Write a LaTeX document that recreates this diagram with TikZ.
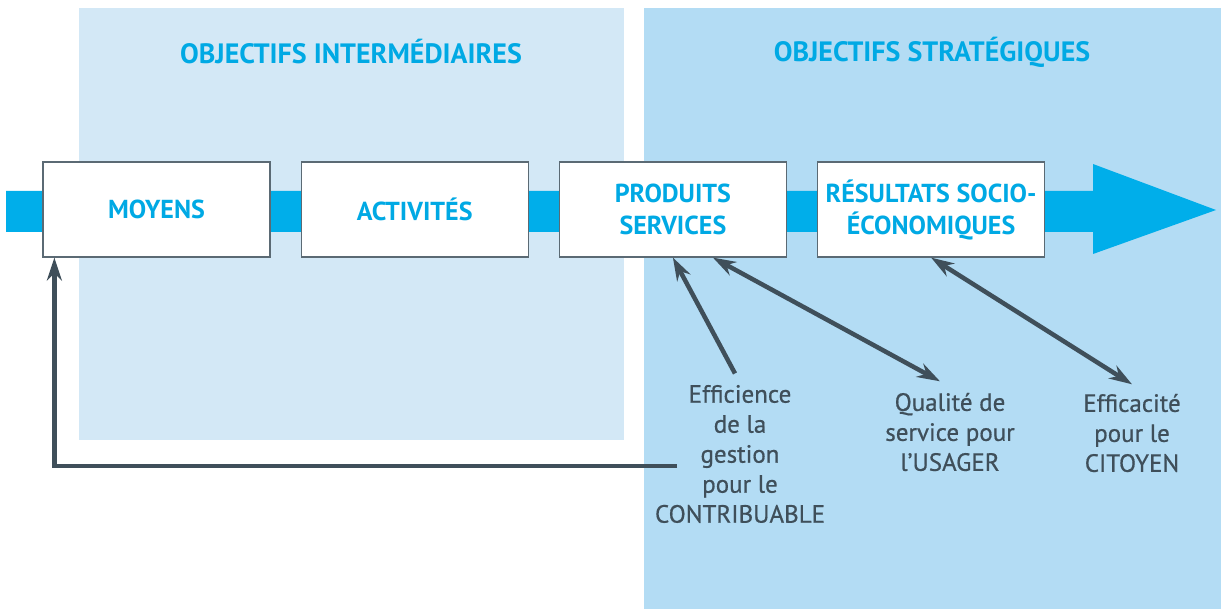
\documentclass[tikz,border=0pt]{standalone}
\usepackage{fontspec}
\setmainfont{PT Sans}
\newfontfamily\critfont{PT Sans}[FakeBold=0.6]
\usetikzlibrary{positioning, arrows.meta}

\definecolor{bandblue}{HTML}{00AEEA}
\definecolor{titleblue}{HTML}{00A9E4}
\definecolor{panellight}{HTML}{D3E8F6}
\definecolor{panelstrat}{HTML}{B3DCF4}
\definecolor{arrowgray}{HTML}{3F4F5A}
\definecolor{boxgray}{HTML}{5B6A74}

\tikzstyle{stage} = [rectangle, draw=boxgray, line width=1.2pt, fill=white, minimum width=227pt, minimum height=95pt, inner xsep=1pt, align=center, text=titleblue, font=\bfseries\fontsize{26}{32}\selectfont]
\tikzstyle{heading} = [text=titleblue, font=\bfseries\fontsize{28}{32}\selectfont]
\tikzstyle{criterion} = [align=center, text=arrowgray, font=\critfont\fontsize{25}{30}\selectfont]
\tikzstyle{arrow} = [line width=4.5pt, draw=arrowgray, -{Stealth[length=23pt, width=15pt]}]
\tikzstyle{dblarrow} = [line width=4.5pt, draw=arrowgray, {Stealth[length=23pt, width=15pt]}-{Stealth[length=23pt, width=15pt]}]

\begin{document}
\begin{tikzpicture}[x=1pt, y=-1pt, node distance=30pt]
	\useasboundingbox (0,0) rectangle (1221,609);

	% the two panels
	\fill [panellight] (79,8) rectangle (624,440);
	\fill [panelstrat] (644,8) rectangle (1221,609);
	\node (intermed) [heading] at (351,52) {OBJECTIFS INTERMÉDIAIRES};
	\node (strateg) [heading] at (932,52) {OBJECTIFS STRATÉGIQUES};

	% the big blue arrow
	\fill [bandblue] (6,191) -- (1093,191) -- (1093,164) -- (1216,210) -- (1093,254) -- (1093,232) -- (6,232) -- cycle;

	\node (moyens) [stage] at (156.5,209.5) {MOYENS};
	\node (activ) [stage, right=of moyens] {ACTIVITÉS};
	\node (prod) [stage, right=of activ] {PRODUITS\\SERVICES};
	\node (result) [stage, right=of prod] {RÉSULTATS SOCIO-\\ÉCONOMIQUES};

	\node (effic) [criterion] at (740,454) {Efficience\\de la\\gestion\\pour le\\CONTRIBUABLE};
	\node (qual) [criterion] at (950,432) {Qualité de\\service pour\\l’USAGER};
	\node (effica) [criterion] at (1132,433) {Efficacité\\pour le\\CITOYEN};

	\draw [arrow] ([xshift=-5pt, yshift=8pt]effic.north) -- (prod.south);
	\draw [dblarrow] ([xshift=40pt]prod.south) -- ([xshift=-10pt, yshift=8pt]qual.north);
	\draw [dblarrow] (result.south) -- ([yshift=6pt]effica.north);

	% back to the means
	\coordinate (fbstart) at (677,466);
	\draw [arrow] (fbstart) -| ([xshift=12pt]moyens.south west);
\end{tikzpicture}
\end{document}
